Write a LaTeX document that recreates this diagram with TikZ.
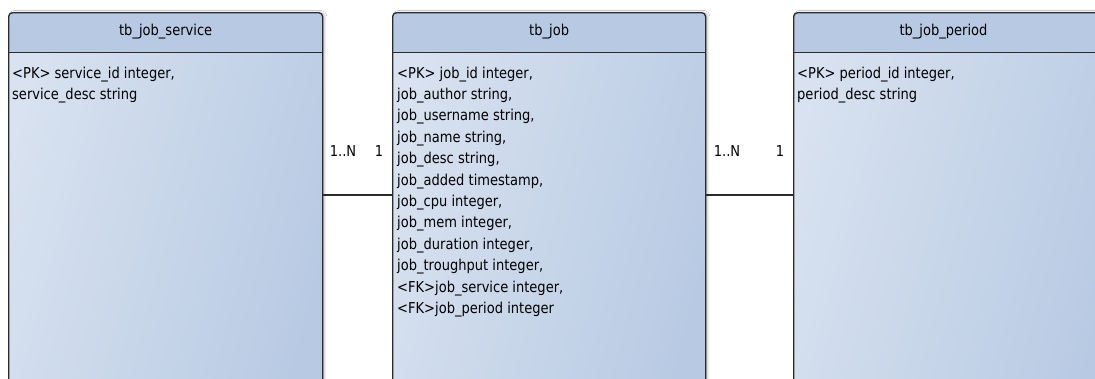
\documentclass[tikz,border=0pt]{standalone}
\usepackage{fontspec}
\setmainfont{DejaVu Sans}[FakeStretch=0.87]
\usetikzlibrary{shadows.blur}
\definecolor{hdr}{HTML}{B8CAE3}
\definecolor{bodyL}{HTML}{D8E2F0}
\definecolor{bodyR}{HTML}{B8CAE3}
\definecolor{edge}{HTML}{2B2B2B}
\begin{document}
\begin{tikzpicture}[x=1pt,y=-1pt,
  tablebox/.style={draw=edge, line width=1.3pt, rounded corners=4pt,
    left color=bodyL, right color=bodyR, shading angle=75,
    minimum height=400pt, inner sep=0pt, anchor=north west,
    blur shadow={shadow xshift=2pt, shadow yshift=0pt, shadow blur steps=6, shadow opacity=25},
    path picture={
      \fill[hdr] (path picture bounding box.north west) rectangle ([yshift=-40pt]path picture bounding box.north east);
      \draw[edge, line width=1.3pt] ([yshift=-40pt]path picture bounding box.north west) -- ([yshift=-40pt]path picture bounding box.north east);
    }},
  titletext/.style={font=\fontsize{15}{18}\selectfont, inner sep=0pt, text=black},
  bodytext/.style={font=\fontsize{15}{21.4}\selectfont, align=left, inner sep=0pt, anchor=north west, text=black},
  mult/.style={font=\fontsize{15}{18}\selectfont, inner sep=0pt, text=black},
  conn/.style={draw=edge, line width=1.2pt}
]
\path[use as bounding box, clip] (0,0) rectangle (1095,378);
\fill[white] (0,0) rectangle (1095,378);

\node[tablebox, minimum width=314pt] (svc) at (8,12) {};
\node[tablebox, minimum width=313pt] (job) at (392,12) {};
\node[tablebox, minimum width=320pt] (per) at (793,12) {};

\node[titletext] (svct) at (svc.north |- 0,32) {tb\_job\_service};
\node[titletext] (jobt) at (job.north |- 0,32) {tb\_job};
\node[titletext] (pert) at (793+150.5,32) {tb\_job\_period};

\node[bodytext] (svcb) at (12,66.5) {<PK> service\_id integer,\\service\_desc string};
\node[bodytext] (jobb) at (397,66.5) {<PK> job\_id integer,\\job\_author string,\\job\_username string,\\job\_name string,\\job\_desc string,\\job\_added timestamp,\\job\_cpu integer,\\job\_mem integer,\\job\_duration integer,\\job\_troughput integer,\\<FK>job\_service integer,\\<FK>job\_period integer};
\node[bodytext] (perb) at (797,66.5) {<PK> period\_id integer,\\period\_desc string};

\draw[conn] (svc.east |- 0,195) -- (job.west |- 0,195);
\draw[conn] (job.east |- 0,195) -- (per.west |- 0,195);

\node[mult] (m1) at (343,151) {1..N};
\node[mult] (m2) at (379,151) {1};
\node[mult] (m3) at (727,151) {1..N};
\node[mult] (m4) at (780,151) {1};
\end{tikzpicture}
\end{document}
